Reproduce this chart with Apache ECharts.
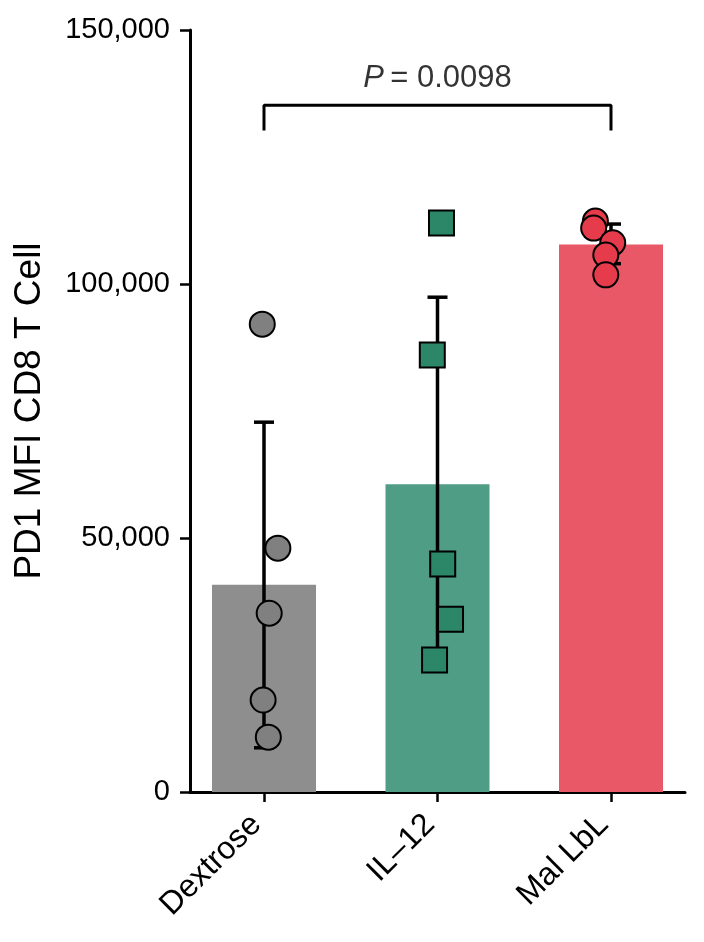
<!DOCTYPE html>
<html>
<head>
<meta charset="utf-8">
<script src="https://cdn.jsdelivr.net/npm/echarts@6/dist/echarts.min.js"></script>
<style>
  html, body { margin: 0; padding: 0; background: #fff; }
  #chart { width: 704px; height: 942px; }
</style>
</head>
<body>
<div id="chart"></div>
<script>
// groups
var categories = ['Dextrose', 'IL\u201312', 'Mal LbL'];
var means = [40800, 60600, 107800];
var errLow = [8700, 23800, 104000];
var errHigh = [72800, 97400, 111800];

// individual animals (x jitter is offset from group centre)
var dextroseVals = [92100, 48000, 35200, 18100, 10800];
var dextroseJitter = [-0.01, 0.08, 0.03, -0.005, 0.025];
var il12Vals = [112000, 86000, 44900, 34000, 26000];
var il12Jitter = [0.023, -0.03, 0.03, 0.075, -0.017];
var malVals = [112400, 111000, 108100, 105700, 101800];
var malJitter = [-0.09, -0.1, 0.01, -0.03, -0.03];

var yTicks = [0, 50000, 100000, 150000];
var pLabel = '0.0098';
var bracket = [[0, 130200], [0, 135200], [2, 135200], [2, 130200]];

var barColors = ['#8e8e8e', '#4f9d84', '#e95866'];
var dotColors = ['#808080', '#2b8767', '#e63b4b'];

var font = 'Liberation Sans, Arial, sans-serif';

function pts(vals, jit, idx) {
    return vals.map(function (v, i) { return [idx + jit[i], v]; });
}

var myChart = echarts.init(document.getElementById('chart'));
var option = {
    backgroundColor: '#fff',
    animation: false,
    grid: { left: 190, right: 19, top: 30, bottom: 150 },
    xAxis: {
        type: 'value',
        min: -0.4265,
        max: 2.4265,
        splitLine: { show: false },
        axisLine: { show: true, onZero: false, lineStyle: { color: '#000', width: 3 } },
        axisTick: { show: true, customValues: [0, 1, 2], length: 10, lineStyle: { color: '#000', width: 2.5 } },
        axisLabel: {
            customValues: [0, 1, 2],
            rotate: 45,
            fontSize: 32,
            fontFamily: font,
            color: '#000',
            margin: 20,
            padding: [0, 11, 0, 0],
            formatter: function (v) { return categories[Math.round(v)]; }
        }
    },
    yAxis: {
        type: 'value',
        min: yTicks[0],
        max: yTicks[yTicks.length - 1],
        interval: 50000,
        splitLine: { show: false },
        name: 'PD1 MFI CD8 T Cell',
        nameLocation: 'middle',
        nameGap: 142,
        nameTextStyle: { fontSize: 37, fontFamily: font, color: '#000' },
        axisLine: { show: true, onZero: false, lineStyle: { color: '#000', width: 3 } },
        axisTick: { show: true, length: 10, lineStyle: { color: '#000', width: 2.5 } },
        axisLabel: {
            fontSize: 29,
            fontFamily: font,
            color: '#000',
            margin: 20,
            formatter: function (v) { return v.toLocaleString('en-US'); }
        }
    },
    series: [
        {
            type: 'bar',
            barWidth: 104,
            z: 1,
            data: means.map(function (m, i) {
                return { value: [i, m], itemStyle: { color: barColors[i] } };
            })
        },
        {
            type: 'custom',
            z: 3,
            data: means.map(function (m, i) { return [i, errLow[i], errHigh[i]]; }),
            renderItem: function (params, api) {
                var lo = api.coord([api.value(0), api.value(1)]);
                var hi = api.coord([api.value(0), api.value(2)]);
                var w = 10;
                var st = { stroke: '#000', lineWidth: 3.5 };
                return {
                    type: 'group',
                    children: [
                        { type: 'line', shape: { x1: lo[0], y1: lo[1], x2: hi[0], y2: hi[1] }, style: st },
                        { type: 'line', shape: { x1: hi[0] - w, y1: hi[1], x2: hi[0] + w, y2: hi[1] }, style: st },
                        { type: 'line', shape: { x1: lo[0] - w, y1: lo[1], x2: lo[0] + w, y2: lo[1] }, style: st }
                    ]
                };
            }
        },
        {
            type: 'line',
            z: 3,
            symbol: 'none',
            lineStyle: { color: '#000', width: 3 },
            data: bracket
        },
        {
            type: 'scatter',
            z: 3,
            symbolSize: 0,
            data: [[1, 140500]],
            label: {
                show: true,
                position: 'inside',
                formatter: '{i|P}{n|\u2009= ' + pLabel + '}',
                rich: {
                    i: { fontSize: 31, fontFamily: font, fontStyle: 'italic', color: '#000' },
                    n: { fontSize: 31, fontFamily: font, color: '#000' }
                }
            }
        },
        {
            type: 'scatter',
            z: 5,
            symbol: 'circle',
            symbolSize: 25,
            itemStyle: { color: dotColors[0], borderColor: '#000', borderWidth: 2, opacity: 1 },
            data: pts(dextroseVals, dextroseJitter, 0)
        },
        {
            type: 'scatter',
            z: 5,
            symbol: 'rect',
            symbolSize: 25,
            itemStyle: { color: dotColors[1], borderColor: '#000', borderWidth: 2, opacity: 1 },
            data: pts(il12Vals, il12Jitter, 1)
        },
        {
            type: 'scatter',
            z: 5,
            symbol: 'circle',
            symbolSize: 25,
            itemStyle: { color: dotColors[2], borderColor: '#000', borderWidth: 2, opacity: 1 },
            data: pts(malVals, malJitter, 2)
        }
    ]
};
myChart.setOption(option);
</script>
</body>
</html>
